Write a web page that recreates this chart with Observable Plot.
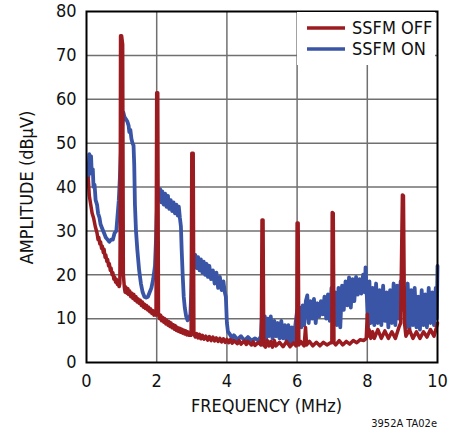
<!DOCTYPE html>
<html><head><meta charset="utf-8">
<script src="https://cdn.jsdelivr.net/npm/d3@7"></script>
<script src="https://cdn.jsdelivr.net/npm/@observablehq/plot@0.6"></script>
<style>body{margin:0;background:#fff} svg{display:block}</style>
</head><body><div id="chart"></div>
<script>
const xTicks = [0, 2, 4, 6, 8, 10];
const yTicks = [0, 10, 20, 30, 40, 50, 60, 70, 80];
const seriesNames = ["SSFM OFF", "SSFM ON"];
const seriesColors = ["#9b1c20", "#3a55a6"];
const xLabel = "FREQUENCY (MHz)";
const yLabel = "AMPLITUDE (dBμV)";
const caption = "3952A TA02e";

// [frequency MHz, amplitude dBμV]
const ssfmOff = [
[0.05,42],[0.08,38],[0.12,36],[0.16,34],[0.2,33],[0.25,31],
[0.3,29.5],[0.33,28],[0.35,28.5],[0.38,27],[0.4,27.5],[0.43,26],[0.45,26.5],[0.48,25],[0.5,25.8],[0.53,24],
[0.55,24.5],[0.58,23],[0.6,23.5],[0.63,22],[0.65,22.5],[0.68,21],[0.7,21.5],[0.73,20],[0.75,20.5],[0.78,19],
[0.8,19.5],[0.83,18.3],[0.85,19],[0.88,17.8],[0.9,18.5],[0.93,17.3],[0.95,18],
[0.96,30],[0.97,74.5],[1.0,74.5],[1.03,72.5],[1.05,20],
[1.08,17],[1.1,16],[1.12,17.2],[1.15,15.8],[1.18,16.8],[1.2,15.5],[1.23,16.3],[1.26,15],[1.29,15.8],[1.32,14.6],
[1.35,15.5],[1.38,14.2],[1.41,15],[1.44,13.8],[1.47,14.5],[1.5,13.5],[1.53,14.2],[1.56,13],[1.59,13.8],[1.62,12.6],
[1.65,13.3],[1.68,12.3],[1.71,13],[1.74,12],[1.77,12.6],[1.8,11.6],[1.83,12.2],[1.86,11.2],[1.89,11.8],[1.92,10.8],
[1.95,11.4],[1.98,10.8],
[2.0,61.5],[2.03,61.5],[2.05,11],
[2.08,10],[2.11,10.8],[2.14,9.5],[2.17,10.3],[2.2,9.2],[2.23,10],[2.26,8.8],[2.29,9.6],[2.32,8.5],[2.35,9.3],
[2.38,8.2],[2.41,9],[2.44,7.9],[2.47,8.6],[2.5,7.6],[2.53,8.4],[2.56,7.3],[2.59,8],[2.62,7.1],[2.65,7.8],
[2.68,6.9],[2.71,7.6],[2.74,6.7],[2.77,7.4],[2.8,6.5],[2.83,7.2],[2.86,6.3],[2.89,7],[2.92,6.2],[2.95,6.8],[2.98,6.2],
[3.0,47.7],[3.04,47.7],[3.06,6.5],
[3.1,5.8],[3.14,6.6],[3.18,5.6],[3.22,6.4],[3.26,5.4],[3.3,6.2],[3.35,5.3],[3.4,6],[3.45,5.1],[3.5,5.9],
[3.55,5],[3.6,5.8],[3.65,4.9],[3.7,5.6],[3.75,4.8],[3.8,5.5],[3.85,4.7],[3.9,5.4],[3.95,4.6],[4.0,5.3],
[4.05,4.5],[4.1,5.2],[4.15,4.4],[4.2,5],[4.3,4.3],[4.35,5],[4.4,4.2],[4.5,4.9],[4.55,4.1],[4.6,4.8],
[4.7,4],[4.75,4.7],[4.8,3.9],[4.9,4.6],[4.97,4],
[4.98,4],[5.0,32.5],[5.03,32.5],[5.05,4],
[5.1,3.5],[5.15,5],[5.2,3.8],[5.25,4.8],[5.3,3.5],[5.35,5],[5.4,3.8],[5.5,4.6],[5.6,3.6],[5.7,4.8],
[5.8,3.6],[5.9,4.5],[5.97,3.8],
[5.99,4],[6.0,31.8],[6.03,31.8],[6.05,4],
[6.1,4.8],[6.2,3.8],[6.24,8],[6.27,4],[6.35,4.8],[6.45,3.8],[6.55,4.6],[6.65,3.8],[6.75,4.6],[6.85,4],[6.95,4.5],
[6.99,4.5],[7.0,34.2],[7.03,34],[7.05,4.5],
[7.1,4],[7.2,5],[7.3,4],[7.4,4.8],[7.5,4.2],[7.6,5],[7.7,4.5],[7.8,5.2],[7.9,5],[7.97,5.5],
[8.0,11],[8.02,6],[8.05,7.5],[8.1,5.5],[8.15,7],[8.2,5.5],[8.3,7.5],[8.4,5.5],[8.5,7.2],[8.6,5.5],
[8.7,7],[8.8,5.5],[8.9,8],[8.95,9],
[9.0,38.2],[9.03,38],[9.06,9],[9.1,6],[9.2,7.5],[9.3,5.5],[9.4,7],[9.5,5.5],[9.6,7],[9.7,5.8],
[9.8,7.5],[9.9,6],[9.97,8],[10.0,9]
];

const ssfmOn = [
[0.05,42],[0.08,47.5],[0.1,46],[0.13,47],[0.15,43],[0.18,44],[0.2,40],[0.23,40.5],[0.26,37],[0.3,36],
[0.33,34],[0.37,33],[0.4,31.5],[0.45,30.5],[0.5,29.5],[0.55,28.5],[0.6,28],[0.65,27.5],[0.7,28],[0.75,28],
[0.8,29.5],[0.85,30],[0.88,33],[0.92,37],[0.95,42],[0.98,48],[1.02,54],[1.05,57],[1.08,56],[1.12,55.5],
[1.16,55],[1.2,54],[1.22,52.5],[1.25,53],[1.28,51],[1.31,50],[1.34,49.5],[1.36,45],[1.38,36],[1.41,30],
[1.45,25.5],[1.5,21],[1.55,18],[1.6,16],[1.65,15],[1.7,14.8],[1.75,15],[1.8,16],[1.85,17],[1.9,19],
[1.95,22],[1.98,28],[2.01,36],[2.04,39.5],[2.07,37.5],[2.1,39.5],[2.13,36.5],[2.16,39],[2.2,36],[2.24,38.5],
[2.28,35.5],[2.32,38],[2.36,35],[2.4,37],[2.44,34.5],[2.48,36.5],[2.52,34],[2.56,36],[2.6,33.5],[2.63,35.5],
[2.66,33],[2.69,31],[2.71,26],[2.74,20],[2.77,15],[2.8,12.5],[2.84,10.5],[2.88,9.6],[2.92,10],[2.96,11],
[2.99,17],[3.01,23],[3.04,24.8],[3.07,22],[3.1,24.5],[3.14,21.5],[3.18,24],[3.22,21],[3.26,23.5],[3.3,20.5],
[3.34,23],[3.38,20],[3.42,22.5],[3.46,19.5],[3.5,22],[3.55,19],[3.6,21],[3.65,18],[3.7,20.5],[3.75,17],
[3.8,19.5],[3.85,16.5],[3.9,18.5],[3.94,16],[3.97,15],[4.0,9],[4.03,7],[4.08,6.5],[4.15,5.5],[4.2,6.2],
[4.3,5.2],[4.4,6],[4.5,5],[4.6,5.8],[4.7,5],[4.8,5.5],[4.9,5],[4.97,6],
[5.0,11],[5.04,6],[5.08,10.5],[5.12,5.5],[5.16,10],[5.2,6],[5.25,10.5],[5.3,5.5],[5.35,9.5],[5.4,6],
[5.45,9],[5.5,5.5],[5.55,9.5],[5.6,5.5],[5.65,8.5],[5.7,5],[5.75,8.5],[5.8,4.5],[5.85,8],[5.9,4.5],
[5.95,8.5],[6.0,11.8],[6.04,8],[6.08,12.5],[6.12,8],[6.16,13],[6.2,8.5],[6.25,14],[6.29,15.3],[6.33,9],
[6.38,14],[6.43,10],[6.48,14.5],[6.53,9],[6.58,13.5],[6.63,10.5],[6.68,14],[6.73,11],[6.78,15],[6.83,10],
[6.88,15.5],[6.93,9.5],[6.98,17],[7.03,10],[7.08,16],[7.13,8.5],[7.18,17],[7.23,8],[7.28,17.5],[7.33,12],
[7.38,18.5],[7.43,13],[7.48,19.4],[7.53,12.5],[7.58,19],[7.63,14],[7.68,19.5],[7.73,15.5],[7.78,19],[7.83,15.7],
[7.88,20],[7.93,16],[7.95,21.7],[7.98,16.5],[8.02,8],[8.06,18.5],[8.1,9],[8.15,17],[8.2,8.5],[8.25,18],
[8.3,9],[8.35,16.5],[8.4,8.5],[8.45,17.5],[8.5,9.5],[8.55,16],[8.6,8],[8.65,16.5],[8.7,9],[8.75,18],
[8.8,8.5],[8.85,17.5],[8.9,10],[8.95,18.5],[9.0,12],[9.05,17],[9.1,8],[9.15,18],[9.2,7.5],[9.25,16.5],
[9.3,8.5],[9.35,17],[9.4,8],[9.45,15],[9.5,7.5],[9.55,16.5],[9.6,8.5],[9.65,15.5],[9.7,8],[9.75,17],
[9.8,9],[9.85,16],[9.9,8.5],[9.95,17],[9.98,10],[10.0,22]
];

const FONT = '"DejaVu Sans Condensed","Liberation Sans Narrow",sans-serif';
const toRows = (arr, s) => arr.map(([f, a]) => ({f, a, s}));
const offRows = toRows(ssfmOff, seriesNames[0]);
const onRows = toRows(ssfmOn, seriesNames[1]);

const chart = Plot.plot({
  width: 451, height: 432,
  marginLeft: 86, marginRight: 14, marginTop: 11, marginBottom: 70,
  style: {fontFamily: FONT, fontSize: "18px", background: "#fff", color: "#111"},
  x: {domain: [0, 10], ticks: xTicks, tickSize: 0, tickPadding: 12, label: null},
  y: {domain: [0, 80], ticks: yTicks, tickSize: 0, tickPadding: 10, label: null},
  marks: [
    Plot.gridX(xTicks.slice(1, -1), {stroke: "#707070", strokeOpacity: 1, strokeWidth: 1.5}),
    Plot.gridY(yTicks.slice(1, -1), {stroke: "#707070", strokeOpacity: 1, strokeWidth: 1.5}),
    Plot.line(onRows, {x: "f", y: "a", stroke: seriesColors[1], strokeWidth: 3.8, strokeLinejoin: "round"}),
    Plot.line(offRows, {x: "f", y: "a", stroke: seriesColors[0], strokeWidth: 3.5, strokeLinejoin: "round"}),
    Plot.frame({stroke: "#000", strokeWidth: 2})
  ]
});

const svg = d3.select(chart);
const xs = chart.scale("x"), ys = chart.scale("y");
const plotRight = xs.apply(10), plotTop = ys.apply(80);
// legend
const lg = svg.append("g").attr("text-anchor", "start");
lg.append("rect").attr("x", plotRight - 140).attr("y", plotTop + 1).attr("width", 138).attr("height", 53).attr("fill", "#fff");
seriesNames.forEach((name, i) => {
  const yy = plotTop + 17 + i * 21;
  lg.append("line").attr("x1", plotRight - 130).attr("x2", plotRight - 92).attr("y1", yy).attr("y2", yy)
    .attr("stroke", seriesColors[i]).attr("stroke-width", 3.5);
  lg.append("text").attr("x", plotRight - 85).attr("y", yy).attr("dy", "0.36em").attr("text-anchor", "start")
    .attr("font-family", FONT).attr("font-size", 18).attr("fill", "#111").text(name);
});
// axis labels
svg.append("text").attr("x", (xs.apply(0) + plotRight) / 2 + 5).attr("y", 406).attr("dy", "0.36em")
  .attr("text-anchor", "middle").attr("font-family", FONT).attr("font-size", 18).attr("fill", "#111").text(xLabel);
svg.append("text").attr("transform", `translate(27,${(ys.apply(0) + plotTop) / 2 + 1}) rotate(-90)`).attr("dy", "0.36em")
  .attr("text-anchor", "middle").attr("font-family", FONT).attr("font-size", 18).attr("fill", "#111").text(yLabel);
svg.append("text").attr("x", plotRight).attr("y", 427).attr("text-anchor", "end")
  .attr("font-family", FONT).attr("font-size", 11).attr("fill", "#111").text(caption);

document.getElementById("chart").append(chart);
</script>
</body></html>
